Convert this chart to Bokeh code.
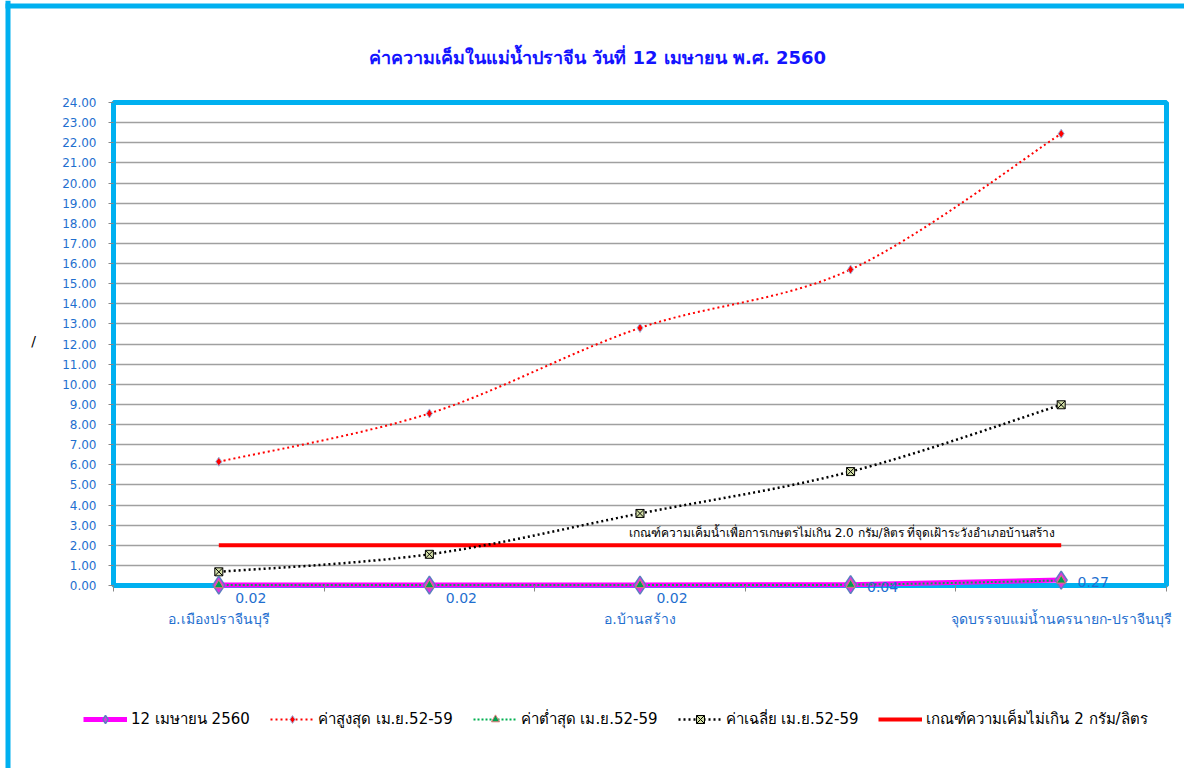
import numpy as np
from bokeh.plotting import figure
from bokeh.models import (Range1d, FixedTicker, SingleIntervalTicker, Legend, LegendItem,
                          Label, NumeralTickFormatter, BoxAnnotation)
from bokeh.embed import file_html
from bokeh.resources import INLINE
from bokeh.core.properties import value

# ---------------- data ----------------
title_text = "ค่าความเค็มในแม่น้ำปราจีน วันที่ 12 เมษายน พ.ศ. 2560"
stations = ["อ.เมืองปราจีนบุรี", "", "อ.บ้านสร้าง", "", "จุดบรรจบแม่น้ำนครนายก-ปราจีนบุรี"]
apr12 = [0.02, 0.02, 0.02, 0.04, 0.27]
max_vals = [6.15, 8.55, 12.80, 15.70, 22.45]
min_vals = [0.02, 0.02, 0.03, 0.04, 0.25]
avg_vals = [0.68, 1.55, 3.58, 5.66, 8.98]
threshold = [2.0, 2.0, 2.0, 2.0, 2.0]
series_names = ["12 เมษายน 2560", "ค่าสูงสุด เม.ย.52-59", "ค่าต่ำสุด เม.ย.52-59",
                "ค่าเฉลี่ย เม.ย.52-59", "เกณฑ์ความเค็มไม่เกิน 2 กรัม/ลิตร"]
threshold_note = "เกณฑ์ความเค็มน้ำเพื่อการเกษตรไม่เกิน 2.0 กรัม/ลิตร  ที่จุดเฝ้าระวังอำเภอบ้านสร้าง"
y_axis_title = "/"
y_max = 24

n_cat = len(stations)
# category centres on a numeric axis (category i occupies [i, i+1])
xs = [i + 0.5 for i in range(n_cat)]

FONT = "DejaVu Sans"
BLUE = "#1F6FCF"
CYAN = "#00B0F0"

# ---------------- layout (pixels) ----------------
W, H = 1184, 768
PX_LEFT, PX_RIGHT, PX_TOP, PX_BOTTOM = 113, 1166, 102, 585   # plot-area box
SX = (PX_RIGHT - PX_LEFT) / n_cat
SY = (PX_BOTTOM - PX_TOP) / y_max


def dx(px):
    return (px - PX_LEFT) / SX


def dy(py):
    return (PX_BOTTOM - py) / SY


# the frame covers the whole canvas so that nothing (labels, legend) is clipped
p = figure(width=W, height=H, output_backend="svg", toolbar_location=None,
           x_range=Range1d(dx(0), dx(W)), y_range=Range1d(dy(H), dy(0)),
           min_border_left=0, min_border_right=0, min_border_top=0, min_border_bottom=0)
p.title.visible = False
p.background_fill_color = "white"
p.border_fill_color = "white"
p.outline_line_color = None

# y axis drawn at x=0
p.yaxis.fixed_location = 0
p.yaxis.bounds = (0, y_max)
p.yaxis.ticker = SingleIntervalTicker(interval=1, num_minor_ticks=0)
p.yaxis.formatter = NumeralTickFormatter(format="0.00")
p.yaxis.major_label_text_font = FONT
p.yaxis.major_label_text_font_size = "12px"
p.yaxis.major_label_text_color = BLUE
p.yaxis.major_tick_out = 5
p.yaxis.major_tick_in = 0
p.yaxis.major_tick_line_color = "#888888"
p.yaxis.minor_tick_line_color = None
p.yaxis.axis_line_color = None
p.yaxis.major_label_standoff = 12

# x axis at y=0: labels at category centres, tick marks at category boundaries
label_ticks = [xs[i] for i, s in enumerate(stations) if s]
p.xaxis.fixed_location = 0
p.xaxis.bounds = (0, n_cat)
p.xaxis.ticker = FixedTicker(ticks=label_ticks, minor_ticks=list(range(n_cat + 1)))
p.xaxis.major_label_overrides = {xs[i]: s for i, s in enumerate(stations) if s}
p.xaxis.major_tick_out = 0
p.xaxis.major_tick_in = 0
p.xaxis.minor_tick_out = 6
p.xaxis.minor_tick_in = 0
p.xaxis.minor_tick_line_color = "#888888"
p.xaxis.axis_line_color = None
p.xaxis.major_label_standoff = 19
p.xaxis.major_label_text_font = FONT
p.xaxis.major_label_text_font_size = "14px"
p.xaxis.major_label_text_color = BLUE

p.xgrid.visible = False
p.ygrid.grid_line_color = "#A0A0A0"
p.ygrid.grid_line_width = 1.5
if "cross_bounds" in p.ygrid[0].properties():
    p.ygrid.cross_bounds = (0, n_cat)

# hide grid overhang outside the plot area
p.add_layout(BoxAnnotation(right=0, fill_color="white", fill_alpha=1, line_color=None, level="underlay"))
p.add_layout(BoxAnnotation(left=n_cat, fill_color="white", fill_alpha=1, line_color=None, level="underlay"))

# cyan plot-area border
p.add_layout(BoxAnnotation(left=0, right=n_cat, bottom=0, top=y_max, fill_alpha=0,
                           line_color=CYAN, line_alpha=1, line_width=5, level="underlay"))

# outer chart border (left and top)
p.add_layout(BoxAnnotation(left=dx(5), right=dx(10), fill_color=CYAN, fill_alpha=1, line_color=None))
p.add_layout(BoxAnnotation(top=dy(3), bottom=dy(8), left=dx(5), fill_color=CYAN, fill_alpha=1, line_color=None))

# title and y axis title
p.add_layout(Label(x=dx(597), y=dy(57), text=title_text, text_align="center", text_baseline="middle",
                   text_font=FONT, text_font_size="18px", text_font_style="bold", text_color="#1414FF"))
p.add_layout(Label(x=dx(33), y=dy(340), text=y_axis_title, text_align="center", text_baseline="middle",
                   text_font=FONT, text_font_size="14px", text_color="black"))


def bezier_segments(x, y):
    n = len(x)
    x0, y0, x1, y1, cx0, cy0, cx1, cy1 = [], [], [], [], [], [], [], []
    for i in range(n - 1):
        pm = i - 1 if i > 0 else i
        pp = i + 2 if i + 2 < n else i + 1
        x0.append(x[i]); y0.append(y[i]); x1.append(x[i + 1]); y1.append(y[i + 1])
        cx0.append(x[i] + (x[i + 1] - x[pm]) / 6.0)
        cy0.append(y[i] + (y[i + 1] - y[pm]) / 6.0)
        cx1.append(x[i + 1] - (x[pp] - x[i]) / 6.0)
        cy1.append(y[i + 1] - (y[pp] - y[i]) / 6.0)
    return dict(x0=x0, y0=y0, x1=x1, y1=y1, cx0=cx0, cy0=cy0, cx1=cx1, cy1=cy1)


# threshold line (drawn first, underneath)
r_thr = p.line(xs, threshold, line_color="#FF0000", line_width=4)

# max series
r_max_l = p.bezier(line_color="#FF0000", line_width=2, line_dash="2 3", **bezier_segments(xs, max_vals))
r_max_m = p.scatter(xs, max_vals, marker="diamond", size=9, fill_color="#FF0000",
                    line_color="#9DB3DE", line_width=1)

# average series
r_avg_l = p.bezier(line_color="black", line_width=2.5, line_dash="2 3", **bezier_segments(xs, avg_vals))
r_avg_m = p.scatter(xs, avg_vals, marker="square_x", size=8, fill_color="#D4E0A8",
                    line_color="black", line_width=1)

# 12 April line
r_apr_l = p.line(xs, apr12, line_color="#FF00FF", line_width=5)

# min series
r_min_l = p.bezier(line_color="#00B050", line_width=2, line_dash="2 2", **bezier_segments(xs, min_vals))

r_apr_m = p.scatter(xs, apr12, marker="diamond", size=18, fill_color="#E033E0",
                    line_color="#5B7FC0", line_width=1.5)
r_min_m = p.scatter(xs, min_vals, marker="triangle", size=9, fill_color="#00A050",
                    line_color="#E07878", line_width=1)

# data labels for 12 April
lbl = [f"{v:.2f}" for v in apr12]
p.text(xs[:3], apr12[:3], text=lbl[:3], x_offset=32, y_offset=13,
       text_align="center", text_baseline="middle", text_font=value(FONT),
       text_font_size="14px", text_color=BLUE)
p.text(xs[3:], apr12[3:], text=lbl[3:], x_offset=32, y_offset=2,
       text_align="center", text_baseline="middle", text_font=value(FONT),
       text_font_size="14px", text_color=BLUE)

# threshold note
p.add_layout(Label(x=xs[-1], y=threshold[-1], text=threshold_note, text_align="right",
                   text_baseline="bottom", x_offset=-2, y_offset=5, text_font=FONT,
                   text_font_size="12px", text_color="black"))

legend = Legend(items=[
    LegendItem(label=series_names[0], renderers=[r_apr_l, r_apr_m]),
    LegendItem(label=series_names[1], renderers=[r_max_l, r_max_m]),
    LegendItem(label=series_names[2], renderers=[r_min_l, r_min_m]),
    LegendItem(label=series_names[3], renderers=[r_avg_l, r_avg_m]),
    LegendItem(label=series_names[4], renderers=[r_thr]),
], orientation="horizontal", location=(83, H - 731))
legend.label_text_font = FONT
legend.label_text_font_size = "15px"
legend.label_text_color = "black"
legend.glyph_width = 44
legend.glyph_height = 20
legend.label_standoff = 4
legend.spacing = 20
legend.padding = 5
legend.margin = 0
legend.border_line_color = None
legend.background_fill_alpha = 0
p.add_layout(legend, "center")

open("out.html", "w").write(file_html(p, INLINE))
